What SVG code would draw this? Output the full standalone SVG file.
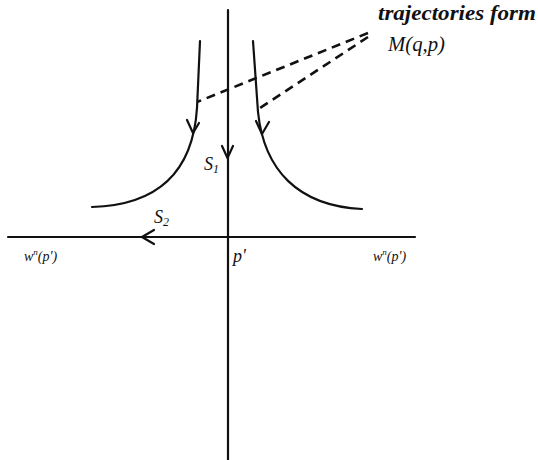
<svg xmlns="http://www.w3.org/2000/svg" width="538" height="460" viewBox="0 0 538 460">
<style>
.ln{fill:none;stroke:#111;stroke-width:2.2;stroke-linecap:round;stroke-linejoin:round}
.ds{fill:none;stroke:#111;stroke-width:2.6;stroke-dasharray:9,6}
.t{font-family:"Liberation Serif",serif;font-style:italic;fill:#111}
</style>
<rect width="538" height="460" fill="#fff"/>
<g id="connectors">
<path class="ds" d="M368,33 L197,102"/>
<path class="ds" d="M368,37 L260,108"/>
</g>
<g id="axis-vertical">
<path class="ln" d="M228,10 L228,460"/>
<path class="ln" d="M222,146 L227.5,158 L233,146"/>
</g>
<g id="axis-horizontal">
<path class="ln" d="M8,237 L415,237"/>
<path class="ln" d="M154,230 L142,237 L154,244"/>
</g>
<g id="traj-left">
<path class="ln" d="M200,41 L197,108 C193,170 160,205 92,207"/>
<path class="ln" d="M187,120 L193,133 L199,123"/>
</g>
<g id="traj-right">
<path class="ln" d="M253,41 L258,112 C264,170 298,206 362,209"/>
<path class="ln" d="M256,121 L262,134 L269,122"/>
</g>
<g id="labels">
<text class="t" x="378" y="20" font-size="21" font-weight="bold" textLength="158" lengthAdjust="spacingAndGlyphs">trajectories form</text>
<text class="t" x="388" y="51" font-size="21" textLength="57" lengthAdjust="spacingAndGlyphs">M(q,p)</text>
<text class="t" x="204" y="170" font-size="18">S<tspan font-size="12" dy="3">1</tspan></text>
<text class="t" x="154" y="223" font-size="18">S<tspan font-size="12" dy="3">2</tspan></text>
<text class="t" x="233" y="262" font-size="18">p'</text>
<text class="t" x="24" y="261" font-size="14">w<tspan font-size="9" dy="-6">n</tspan><tspan dy="6">(p')</tspan></text>
<text class="t" x="373" y="261" font-size="14">w<tspan font-size="9" dy="-6">n</tspan><tspan dy="6">(p')</tspan></text>
</g>
</svg>
